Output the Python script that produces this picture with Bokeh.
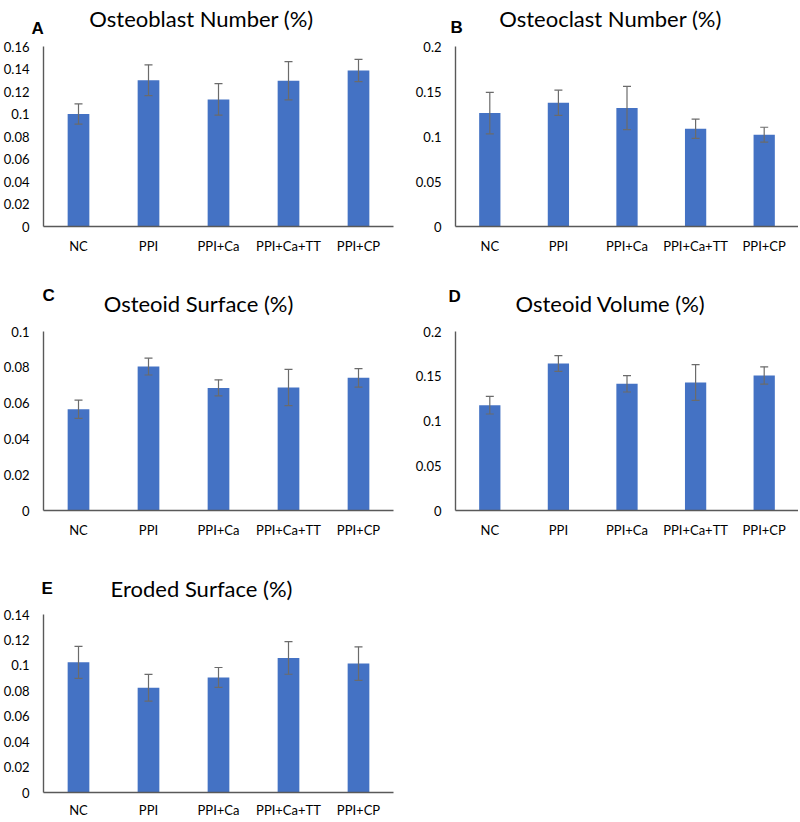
from bokeh.plotting import figure
from bokeh.layouts import column, row
from bokeh.models import FactorRange, Range1d, FixedTicker, Label, Whisker, TeeHead, ColumnDataSource
from bokeh.embed import file_html
from bokeh.resources import INLINE

categories = ["NC", "PPI", "PPI+Ca", "PPI+Ca+TT", "PPI+CP"]

osteoblast_mean = [0.100, 0.130, 0.113, 0.1295, 0.1387]
osteoblast_err = [0.009, 0.0137, 0.014, 0.017, 0.0099]
osteoclast_mean = [0.126, 0.1375, 0.1316, 0.1087, 0.102]
osteoclast_err = [0.023, 0.014, 0.024, 0.0107, 0.0083]
surface_mean = [0.0566, 0.0804, 0.0685, 0.0687, 0.0741]
surface_err = [0.0051, 0.0047, 0.0045, 0.0101, 0.0052]
volume_mean = [0.1177, 0.1642, 0.1415, 0.143, 0.1508]
volume_err = [0.0099, 0.0088, 0.0091, 0.020, 0.0097]
eroded_mean = [0.1024, 0.0824, 0.0905, 0.1058, 0.1014]
eroded_err = [0.0126, 0.0105, 0.0078, 0.0128, 0.0132]

ticks_016 = [0, 0.02, 0.04, 0.06, 0.08, 0.1, 0.12, 0.14, 0.16]
labels_016 = ["0", "0.02", "0.04", "0.06", "0.08", "0.1", "0.12", "0.14", "0.16"]
ticks_02 = [0, 0.05, 0.1, 0.15, 0.2]
labels_02 = ["0", "0.05", "0.1", "0.15", "0.2"]
ticks_01 = [0, 0.02, 0.04, 0.06, 0.08, 0.1]
labels_01 = ["0", "0.02", "0.04", "0.06", "0.08", "0.1"]
ticks_014 = [0, 0.02, 0.04, 0.06, 0.08, 0.1, 0.12, 0.14]
labels_014 = ["0", "0.02", "0.04", "0.06", "0.08", "0.1", "0.12", "0.14"]

titles = ["Osteoblast Number (%)", "Osteoclast Number (%)", "Osteoid Surface (%)",
          "Osteoid Volume (%)", "Eroded Surface (%)"]
letters = ["A", "B", "C", "D", "E"]

BAR = "#4472C4"
AXIS = "#595959"
ERR = "#6b6b6b"
FONT = "Lato"
WL = 400
WR = 398


def header(w, h, title, letter, tx, ty, lx, ly):
    p = figure(x_range=Range1d(0, w), y_range=Range1d(0, h), width=w, height=h,
               min_border=0, x_axis_location=None, y_axis_location=None,
               output_backend="svg", toolbar_location=None)
    p.xgrid.visible = False
    p.ygrid.visible = False
    p.outline_line_color = None
    p.add_layout(Label(x=tx, y=ty, text=title, text_align="center",
                       text_baseline="alphabetic", text_font=FONT,
                       text_font_size="22px", text_color="#000000"))
    p.add_layout(Label(x=lx, y=ly, text=letter, text_align="left",
                       text_baseline="alphabetic", text_font="Liberation Sans",
                       text_font_style="bold", text_font_size="17px",
                       text_color="#000000"))
    return p


def panel(means, errs, ticks, tick_labels, w, h, bl, br, bb, xstand=11):
    src = ColumnDataSource(dict(
        cat=categories, mean=means,
        upper=[m + e for m, e in zip(means, errs)],
        lower=[m - e for m, e in zip(means, errs)]))
    p = figure(x_range=FactorRange(*categories, range_padding=0),
               y_range=Range1d(0, ticks[-1]),
               width=w, height=h, min_border_left=bl, min_border_right=br,
               min_border_top=8, min_border_bottom=bb,
               output_backend="svg", toolbar_location=None)
    p.vbar(x="cat", top="mean", width=0.31, source=src, fill_color=BAR, line_color=None)
    p.add_layout(Whisker(source=src, base="cat", upper="upper", lower="lower",
                         dimension="height", line_color=ERR, line_width=1.2,
                         level="overlay",
                         upper_head=TeeHead(size=8, line_color=ERR, line_width=1.2),
                         lower_head=TeeHead(size=8, line_color=ERR, line_width=1.2)))
    p.xgrid.visible = False
    p.ygrid.visible = False
    p.outline_line_color = None
    for ax in (p.xaxis[0], p.yaxis[0]):
        ax.axis_line_color = AXIS
        ax.axis_line_width = 1.4
        ax.major_tick_line_color = None
        ax.minor_tick_line_color = None
        ax.major_tick_out = 0
        ax.major_tick_in = 0
        ax.minor_tick_out = 0
        ax.major_label_text_font = FONT
        ax.major_label_text_font_size = "13px"
        ax.major_label_text_color = "#000000"
    p.xaxis[0].major_label_standoff = xstand
    p.yaxis[0].major_label_standoff = 14
    p.yaxis[0].ticker = FixedTicker(ticks=ticks)
    p.yaxis[0].major_label_overrides = {t: l for t, l in zip(ticks, tick_labels)}
    return p


hA = header(WL, 38, titles[0], letters[0], 201, 20, 31, 10)
hB = header(WR, 38, titles[1], letters[1], 210, 20, 50, 11.3)
pA = panel(osteoblast_mean, osteoblast_err, ticks_016, labels_016, WL, 232, 43, 7, 44)
pB = panel(osteoclast_mean, osteoclast_err, ticks_02, labels_02, WR, 232, 55, 0, 44)

hC = header(WL, 53, titles[2], letters[2], 198, 20, 42, 28)
hD = header(WR, 53, titles[3], letters[3], 210, 20, 48, 27)
pC = panel(surface_mean, surface_err, ticks_01, labels_01, WL, 217, 43, 7, 30)
pD = panel(volume_mean, volume_err, ticks_02, labels_02, WR, 217, 55, 0, 30)

hE = header(WL, 66, titles[4], letters[4], 201, 18, 41, 18)
pE = panel(eroded_mean, eroded_err, ticks_014, labels_014, WL, 214, 43, 7, 28, xstand=9)

layout = column(
    column(row(hA, hB, spacing=0), row(pA, pB, spacing=0), spacing=0),
    column(row(hC, hD, spacing=0), row(pC, pD, spacing=0), spacing=0),
    column(row(hE, spacing=0), row(pE, spacing=0), spacing=0),
    spacing=0)

open("out.html", "w").write(file_html(layout, INLINE))
